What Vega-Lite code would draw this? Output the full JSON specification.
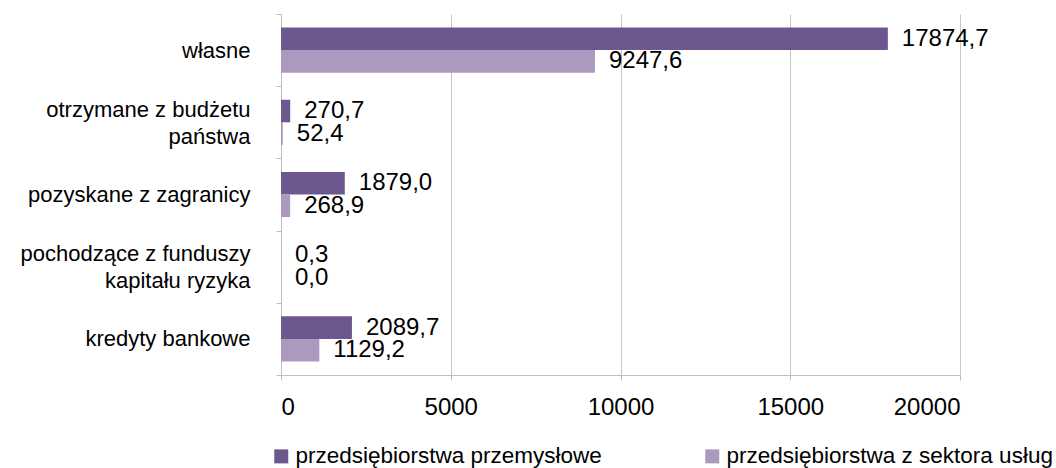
{
  "$schema": "https://vega.github.io/schema/vega-lite/v6.json",
  "width": 679,
  "height": 361,
  "autosize": {"type": "none"},
  "padding": {"left": 281, "top": 14, "right": 96, "bottom": 93},
  "background": "white",
  "config": {"view": {"stroke": null}, "font": "Liberation Sans"},
  "data": {
    "values": [
      {"kategoria": "własne", "seria": "przedsiębiorstwa przemysłowe", "wartosc": 17874.7, "etykieta": "17874,7"},
      {"kategoria": "własne", "seria": "przedsiębiorstwa z sektora usług", "wartosc": 9247.6, "etykieta": "9247,6"},
      {"kategoria": "otrzymane z budżetu państwa", "seria": "przedsiębiorstwa przemysłowe", "wartosc": 270.7, "etykieta": "270,7"},
      {"kategoria": "otrzymane z budżetu państwa", "seria": "przedsiębiorstwa z sektora usług", "wartosc": 52.4, "etykieta": "52,4"},
      {"kategoria": "pozyskane z zagranicy", "seria": "przedsiębiorstwa przemysłowe", "wartosc": 1879.0, "etykieta": "1879,0"},
      {"kategoria": "pozyskane z zagranicy", "seria": "przedsiębiorstwa z sektora usług", "wartosc": 268.9, "etykieta": "268,9"},
      {"kategoria": "pochodzące z funduszy kapitału ryzyka", "seria": "przedsiębiorstwa przemysłowe", "wartosc": 0.3, "etykieta": "0,3"},
      {"kategoria": "pochodzące z funduszy kapitału ryzyka", "seria": "przedsiębiorstwa z sektora usług", "wartosc": 0.0, "etykieta": "0,0"},
      {"kategoria": "kredyty bankowe", "seria": "przedsiębiorstwa przemysłowe", "wartosc": 2089.7, "etykieta": "2089,7"},
      {"kategoria": "kredyty bankowe", "seria": "przedsiębiorstwa z sektora usług", "wartosc": 1129.2, "etykieta": "1129,2"}
    ]
  },
  "encoding": {
    "y": {
      "field": "kategoria",
      "type": "nominal",
      "sort": null,
      "scale": {"paddingInner": 0, "paddingOuter": 0},
      "axis": {
        "title": null,
        "domainColor": "#bfbfbf",
        "tickColor": "#bfbfbf",
        "tickSize": 5,
        "tickBand": "extent",
        "labelFontSize": 22,
        "labelPadding": 26,
        "labelColor": "#000000",
        "labelLimit": 300,
        "labelLineHeight": 27,
        "labelOffset": {"condition": {"test": "datum.value == 'otrzymane z budżetu państwa' || datum.value == 'pochodzące z funduszy kapitału ryzyka'", "value": -13}, "value": 0},
        "labelExpr": "datum.value == 'otrzymane z budżetu państwa' ? ['otrzymane z budżetu', 'państwa'] : datum.value == 'pochodzące z funduszy kapitału ryzyka' ? ['pochodzące z funduszy', 'kapitału ryzyka'] : datum.label",
        "grid": false
      }
    },
    "yOffset": {
      "field": "seria",
      "type": "nominal",
      "sort": ["przedsiębiorstwa przemysłowe", "przedsiębiorstwa z sektora usług"],
      "scale": {"paddingOuter": 0.6, "paddingInner": 0}
    },
    "x": {
      "field": "wartosc",
      "type": "quantitative",
      "scale": {"domain": [0, 20000], "nice": false},
      "axis": {
        "title": null,
        "values": [0, 5000, 10000, 15000, 20000],
        "format": "d",
        "labelFontSize": 24,
        "labelColor": "#000000",
        "labelPadding": 15,
        "tickSize": 5,
        "tickColor": "#bfbfbf",
        "domainColor": "#bfbfbf",
        "grid": true,
        "gridColor": "#c6c6c6"
      }
    }
  },
  "layer": [
    {
      "mark": {"type": "bar"},
      "encoding": {
        "color": {
          "field": "seria",
          "type": "nominal",
          "sort": ["przedsiębiorstwa przemysłowe", "przedsiębiorstwa z sektora usług"],
          "scale": {"domain": ["przedsiębiorstwa przemysłowe", "przedsiębiorstwa z sektora usług"], "range": ["#6e578e", "#ab9abd"]},
          "legend": {
            "orient": "none",
            "legendX": -11,
            "legendY": 431,
            "direction": "horizontal",
            "title": null,
            "symbolType": "square",
            "symbolSize": 196,
            "symbolStrokeWidth": 0,
            "labelFontSize": 22.5,
            "labelColor": "#000000",
            "labelOffset": 3,
            "labelLimit": 400,
            "columnPadding": 99
          }
        }
      }
    },
    {
      "mark": {"type": "text", "align": "left", "baseline": "middle", "dx": 14, "fontSize": 24, "color": "#000000"},
      "encoding": {"text": {"field": "etykieta", "type": "nominal"}}
    }
  ]
}
